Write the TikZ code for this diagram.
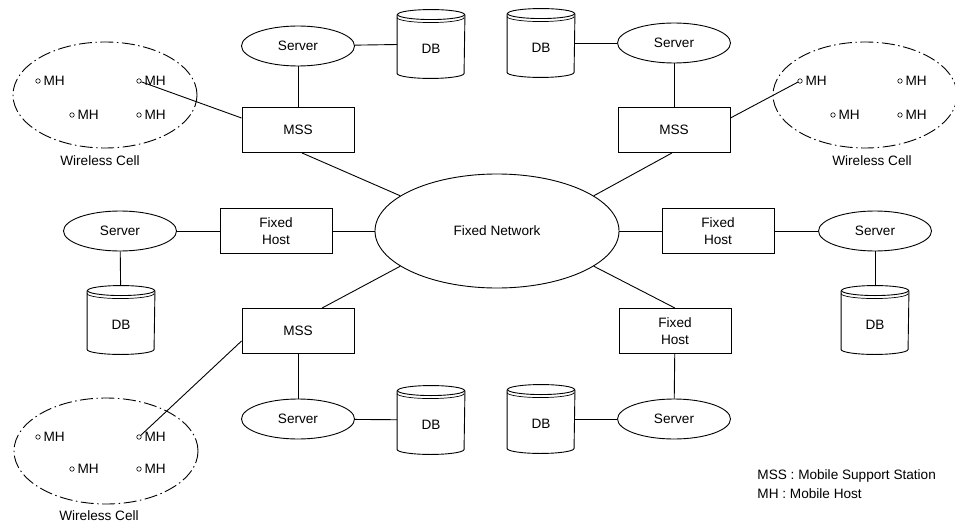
\documentclass[tikz,border=0pt]{standalone}
\usepackage{fontspec}
\setmainfont{Liberation Sans}
\usetikzlibrary{shapes.geometric,calc}
\tikzset{
  every node/.style={font=\fontsize{13.6}{17.5}\selectfont},
  server/.style={ellipse,draw,inner sep=0pt,minimum width=113pt,minimum height=40pt},
  hostbox/.style={rectangle,draw,inner sep=0pt,minimum width=112pt,minimum height=45pt,align=center},
  dbbox/.style={rectangle,draw=none,inner sep=0pt,minimum width=67pt,minimum height=68pt},
  dblabel/.style={inner sep=0pt},
  cell/.style={ellipse,draw,inner sep=0pt,minimum width=184pt,minimum height=106pt,
    dash pattern=on 13pt off 3.5pt on 1.5pt off 3.5pt},
  mhdot/.style={circle,draw,fill=white,inner sep=0pt,minimum size=4.5pt,line width=0.6pt},
  mhtext/.style={anchor=west,inner sep=0pt,xshift=2.5pt},
  net/.style={ellipse,draw,inner sep=0pt,minimum width=244pt,minimum height=114pt},
}
\newcommand{\drawdbshape}[1]{%
  \draw[line width=0.9pt] ([yshift=-5pt]#1.north west) -- ([yshift=5pt]#1.south west)
    arc[start angle=180,end angle=360,x radius=33.5pt,y radius=5pt]
    -- ([yshift=-5pt]#1.north east);
  \draw[line width=0.9pt] ([yshift=-5pt]#1.north) ellipse[x radius=33.5pt,y radius=5pt];
  \draw[line width=0.7pt] ([yshift=-8pt]#1.north west)
    arc[start angle=180,end angle=360,x radius=33.5pt,y radius=5pt];
  \node[dblabel] (#1t) at ([yshift=-5pt]#1.center) {DB};
}
\begin{document}
\begin{tikzpicture}[x=1pt,y=-1pt,line width=0.9pt]
\useasboundingbox (0,0) rectangle (955,524);

% central network
\node[net] (net) at (497,231) {Fixed Network};

% top-left group
\node[server] (srv1) at (298,46) {Server};
\node[dbbox] (db1) at (431,44) {};
\drawdbshape{db1}
\node[hostbox] (mss1) at (298,130) {MSS};

% top-right group
\node[dbbox] (db2) at (541,43) {};
\drawdbshape{db2}
\node[server] (srv2) at (674,43) {Server};
\node[hostbox] (mss2) at (674,130) {MSS};

% left group
\node[server] (srvL) at (120,231) {Server};
\node[hostbox] (fh1) at (276,231) {Fixed\\Host};
\node[dbbox] (dbL) at (121,320) {};
\drawdbshape{dbL}

% right group
\node[hostbox] (fh2) at (718,231) {Fixed\\Host};
\node[server] (srvR) at (875,231) {Server};
\node[dbbox] (dbR) at (875,320) {};
\drawdbshape{dbR}

% bottom-left group
\node[hostbox] (mss3) at (298,331) {MSS};
\node[server] (srv3) at (298,419) {Server};
\node[dbbox] (db3) at (431,420) {};
\drawdbshape{db3}

% bottom-right group
\node[hostbox] (fh3) at (675,331) {Fixed\\Host};
\node[server] (srv4) at (674,419) {Server};
\node[dbbox] (db4) at (541,419) {};
\drawdbshape{db4}

% wireless cells
\node[cell] (cell1) at (105,95) {};
\node (wc1) at (100,161) {Wireless Cell};
\node[mhdot] (m11) at (38,81) {};  \node[mhtext] (m11t) at (m11.east) {MH};
\node[mhdot] (m12) at (139,81) {}; \node[mhtext] (m12t) at (m12.east) {MH};
\node[mhdot] (m13) at (72,115) {}; \node[mhtext] (m13t) at (m13.east) {MH};
\node[mhdot] (m14) at (139,115) {};\node[mhtext] (m14t) at (m14.east) {MH};

\node[cell] (cell2) at (865,95) {};
\node (wc2) at (872,161) {Wireless Cell};
\node[mhdot] (m21) at (800,81) {}; \node[mhtext] (m21t) at (m21.east) {MH};
\node[mhdot] (m22) at (900,81) {}; \node[mhtext] (m22t) at (m22.east) {MH};
\node[mhdot] (m23) at (833,115) {};\node[mhtext] (m23t) at (m23.east) {MH};
\node[mhdot] (m24) at (900,115) {};\node[mhtext] (m24t) at (m24.east) {MH};

\node[cell] (cell3) at (106,451) {};
\node (wc3) at (99,516) {Wireless Cell};
\node[mhdot] (m31) at (38,437) {}; \node[mhtext] (m31t) at (m31.east) {MH};
\node[mhdot] (m32) at (139,437) {};\node[mhtext] (m32t) at (m32.east) {MH};
\node[mhdot] (m33) at (72,469) {}; \node[mhtext] (m33t) at (m33.east) {MH};
\node[mhdot] (m34) at (139,469) {};\node[mhtext] (m34t) at (m34.east) {MH};

% legend
\node[anchor=west,inner sep=0pt] (leg1) at (757,476) {MSS : Mobile Support Station};
\node[anchor=west,inner sep=0pt] (leg2) at (757,494) {MH : Mobile Host};

% connectors
\draw (srv1) -- (db1);
\draw (srv1) -- (mss1);
\draw ([xshift=4pt]mss1.south) -- (net.160);
\draw ([yshift=12pt]mss1.west) -- (m12);

\draw (db2) -- (srv2);
\draw (srv2) -- (mss2);
\draw ([xshift=-2pt]mss2.south) -- (net.20);
\draw ([yshift=12pt]mss2.east) -- (m21);

\draw (srvL) -- (fh1);
\draw (fh1) -- (net);
\draw (srvL) -- (dbL);

\draw (net) -- (fh2);
\draw (fh2) -- (srvR);
\draw (srvR) -- (dbR);

\draw (net.200) -- ([xshift=24pt]mss3.north);
\draw (mss3) -- (srv3);
\draw (srv3) -- (db3);
\draw ([yshift=-10pt]mss3.west) -- (m32);

\draw (net.340) -- (fh3.north);
\draw (fh3) -- (srv4);
\draw (srv4) -- (db4);
\end{tikzpicture}
\end{document}
